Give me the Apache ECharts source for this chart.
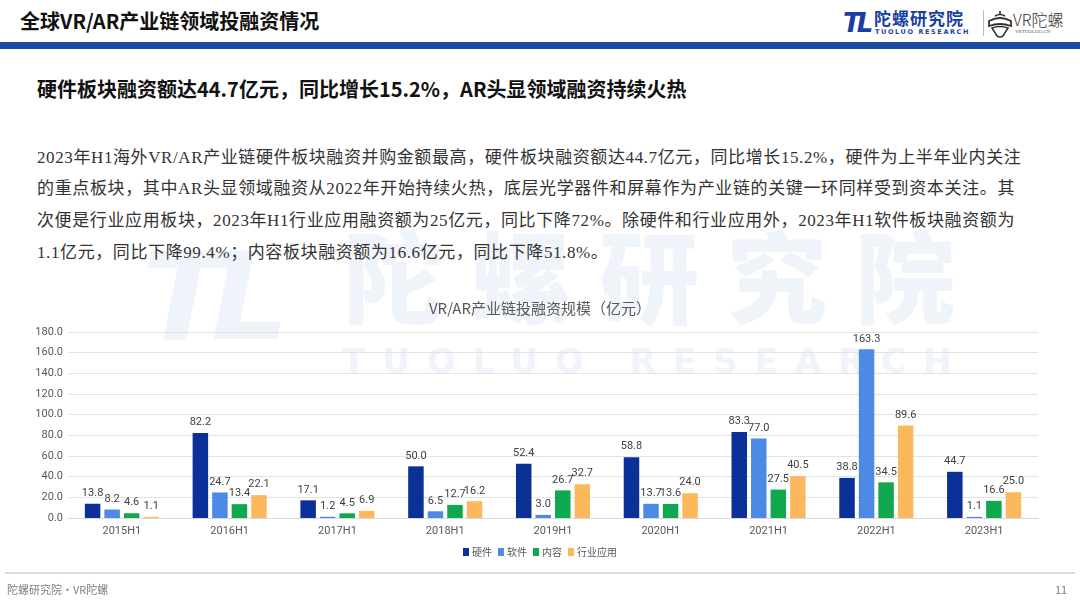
<!DOCTYPE html>
<html>
<head>
<meta charset="utf-8">
<script src="https://cdn.jsdelivr.net/npm/echarts@6/dist/echarts.min.js"></script>
<style>
  html,body{margin:0;padding:0;background:#fff;}
  #page{position:relative;width:1080px;height:608px;overflow:hidden;background:#fff;font-family:"Noto Sans CJK SC","Noto Sans",sans-serif;}
  .abs{position:absolute;white-space:nowrap;}
  #wm1{left:142px;top:232px;font-size:122px;font-weight:900;font-style:italic;color:#eff3fa;letter-spacing:-14px;line-height:130px;font-family:"DejaVu Sans";}
  #wm2{left:343px;top:218px;font-size:100px;font-weight:900;color:#eff3fa;letter-spacing:28px;line-height:110px;}
  #wm3{left:342px;top:341px;font-size:34px;font-weight:700;color:#eff3fa;letter-spacing:17px;line-height:40px;font-family:"DejaVu Sans";}
  #title{left:20px;top:7px;font-size:20px;font-weight:700;color:#111;line-height:28px;}
  #band{left:0;top:42px;width:1080px;height:7px;background:#1b4aa3;}
  #sub{left:37px;top:75px;font-size:20px;font-weight:700;color:#111;line-height:28px;}
  .pl{position:absolute;left:37px;width:978px;font-size:17px;color:#333;line-height:22px;font-family:"Liberation Serif","Noto Sans CJK SC",serif;letter-spacing:0.6px;white-space:nowrap;}
  .just{text-align:justify;text-align-last:justify;}
  #foot{left:5px;top:572px;width:1070px;height:2px;background:#dcdcdc;}
  #ft1{left:7px;top:581px;font-size:11px;color:#808080;line-height:16px;}
  #ft2{left:1055px;top:581px;font-size:11px;color:#808080;line-height:16px;}
  #chart{position:absolute;left:0;top:0;width:1080px;height:608px;}
  #logoTL{left:843px;top:10px;font-size:26px;font-weight:900;font-style:italic;color:#1a3f9f;line-height:26px;letter-spacing:-4px;font-family:"DejaVu Sans";}
  #logoCN{left:874px;top:8px;font-size:17px;font-weight:700;color:#1a3f9f;line-height:20px;letter-spacing:1px;}
  #logoEN{left:875px;top:28px;font-size:6.5px;font-weight:700;color:#1a3f9f;line-height:8px;letter-spacing:1.6px;font-family:"DejaVu Sans";}
  #sep{left:983px;top:10px;width:1px;height:26px;background:#bbb;}
  #vr1{left:1013px;top:10px;font-size:16px;color:#333;line-height:18px;font-weight:300;}
  #vr2{left:1015px;top:29px;font-size:5px;color:#555;line-height:6px;font-family:"Liberation Serif";}
</style>
</head>
<body>
<div id="page">
  <div class="abs" id="wm1">TL</div>
  <div class="abs" id="wm2">陀螺研究院</div>
  <div class="abs" id="wm3">TUOLUO RESEARCH</div>

  <div class="abs" id="title">全球VR/AR产业链领域投融资情况</div>
  <div class="abs" id="logoTL">TL</div>
  <div class="abs" id="logoCN">陀螺研究院</div>
  <div class="abs" id="logoEN">TUOLUO RESEARCH</div>
  <div class="abs" id="sep"></div>
  <svg class="abs" style="left:987px;top:9px" width="26" height="30" viewBox="0 0 26 30">
    <path d="M13 2 L13 6 M8 7 Q13 4 18 7" stroke="#333" stroke-width="1.6" fill="none"/>
    <path d="M2 12 Q13 6 24 12 L24 17 Q13 13 2 17 Z" fill="none" stroke="#333" stroke-width="1.8"/>
    <path d="M5 19 Q13 16 21 19 L16 27 Q13 29 10 27 Z" fill="none" stroke="#333" stroke-width="1.6"/>
  </svg>
  <div class="abs" id="vr1">VR陀螺</div>
  <div class="abs" id="vr2">VRTUOLUO.CN</div>
  <div class="abs" id="band"></div>

  <div class="abs" id="sub">硬件板块融资额达44.7亿元，同比增长15.2%，AR头显领域融资持续火热</div>

  <div class="pl just" style="top:147px">2023年H1海外VR/AR产业链硬件板块融资并购金额最高，硬件板块融资额达44.7亿元，同比增长15.2%，硬件为上半年业内关注</div>
  <div class="pl just" style="top:178px">的重点板块，其中AR头显领域融资从2022年开始持续火热，底层光学器件和屏幕作为产业链的关键一环同样受到资本关注。其</div>
  <div class="pl just" style="top:210px">次便是行业应用板块，2023年H1行业应用融资额为25亿元，同比下降72%。除硬件和行业应用外，2023年H1软件板块融资额为</div>
  <div class="pl" style="top:242px">1.1亿元，同比下降99.4%；内容板块融资额为16.6亿元，同比下降51.8%。</div>

  <div id="chart"></div>

  <div class="abs" id="foot"></div>
  <div class="abs" id="ft1">陀螺研究院・VR陀螺</div>
  <div class="abs" id="ft2">11</div>
</div>
<script>
const categories = ['2015H1','2016H1','2017H1','2018H1','2019H1','2020H1','2021H1','2022H1','2023H1'];
const seriesNames = ['硬件','软件','内容','行业应用'];
const hardware = [13.8, 82.2, 17.1, 50.0, 52.4, 58.8, 83.3, 38.8, 44.7];
const software = [8.2, 24.7, 1.2, 6.5, 3.0, 13.7, 77.0, 163.3, 1.1];
const content = [4.6, 13.4, 4.5, 12.7, 26.7, 13.6, 27.5, 34.5, 16.6];
const industry = [1.1, 22.1, 6.9, 16.2, 32.7, 24.0, 40.5, 89.6, 25.0];
const yTicks = [0, 20, 40, 60, 80, 100, 120, 140, 160, 180];
const colors = ['#0b3198', '#4d8ae6', '#10a84e', '#fbb85c'];

const dataSets = [hardware, software, content, industry];
const chart = echarts.init(document.getElementById('chart'), null, {renderer:'canvas'});
chart.setOption({
  backgroundColor: 'transparent',
  animation: false,
  color: colors,
  title: {
    text: 'VR/AR产业链投融资规模（亿元）',
    left: 'center',
    top: 296,
    textStyle: {fontSize: 15, fontWeight: 'normal', color: '#595959', fontFamily: 'Noto Sans CJK SC'}
  },
  legend: {
    data: seriesNames,
    bottom: 46,
    left: 'center',
    itemWidth: 6,
    itemHeight: 8,
    itemGap: 6,
    icon: 'rect',
    textStyle: {fontSize: 10, color: '#595959', fontFamily: 'Noto Sans CJK SC', padding: [0,0,0,-2]}
  },
  grid: {left: 68, right: 42, top: 332, bottom: 90, containLabel: false},
  xAxis: {
    type: 'category',
    data: categories,
    axisLine: {lineStyle: {color: '#d9d9d9'}},
    axisTick: {show: false},
    axisLabel: {color: '#595959', fontSize: 11, margin: 8, fontFamily: 'Roboto'}
  },
  yAxis: {
    type: 'value',
    min: yTicks[0],
    max: yTicks[yTicks.length - 1],
    interval: yTicks[1] - yTicks[0],
    axisLine: {show: false},
    axisTick: {show: false},
    axisLabel: {color: '#595959', fontSize: 11, margin: 5, fontFamily: 'Roboto', formatter: v => v.toFixed(1)},
    splitLine: {lineStyle: {color: '#e3e3e3'}}
  },
  series: seriesNames.map((n, i) => ({
    name: n,
    type: 'bar',
    data: dataSets[i],
    barWidth: 15.5,
    barGap: '26%',
    label: {
      show: true,
      position: 'top',
      distance: 5,
      color: '#404040',
      fontSize: 11,
      fontFamily: 'Roboto',
      formatter: p => p.value.toFixed(1)
    }
  }))
});
</script>
</body>
</html>
